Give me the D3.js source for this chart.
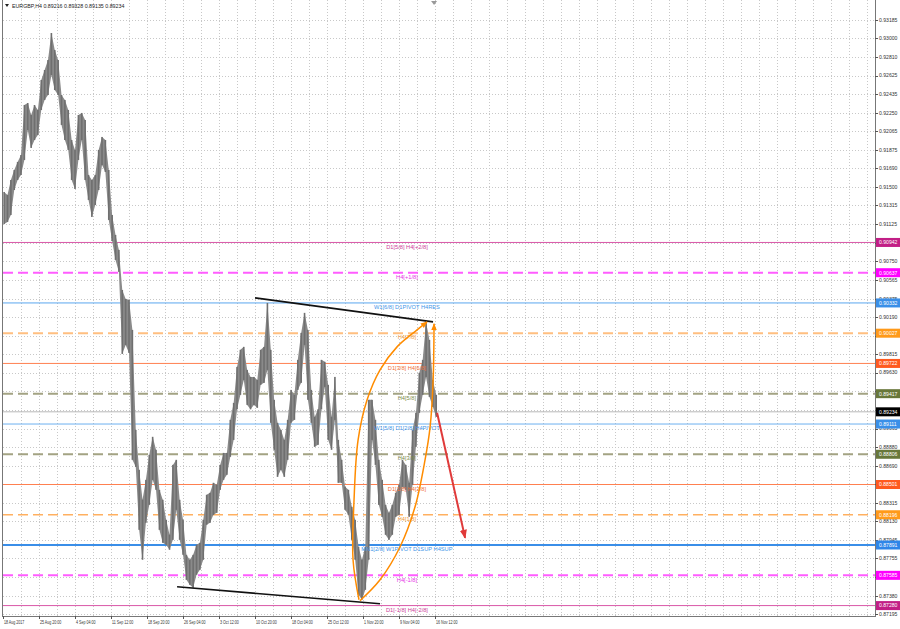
<!DOCTYPE html>
<html><head><meta charset="utf-8">
<script src="https://cdn.jsdelivr.net/npm/d3@7"></script>
<style>
body{margin:0;background:#fff;}
svg{display:block;font-family:"Liberation Sans",Arial,sans-serif;}
</style>
</head><body>
<svg id="c" width="900" height="629"></svg>
<script>
// ---------------- DATA ----------------
const symbolTitle = "EURGBP,H4  0.89216 0.89328 0.89135 0.89234";
const lastPrice = 0.89234;
const dateLabels = ["18 Aug 2017","25 Aug 20:00","4 Sep 04:00","11 Sep 12:00","18 Sep 20:00","26 Sep 04:00","3 Oct 12:00","10 Oct 20:00","18 Oct 04:00","25 Oct 12:00","1 Nov 20:00","9 Nov 04:00","16 Nov 12:00"];
const dateBars = [0,32,64,96,128,160,192,224,256,288,320,352,384];
const priceTicks = [0.93185,0.93000,0.92810,0.92625,0.92435,0.92250,0.92065,0.91875,0.91690,0.91500,0.91315,0.91125,0.90940,0.90750,0.90565,0.90375,0.90190,0.90000,0.89815,0.89630,0.89440,0.89255,0.89065,0.88880,0.88690,0.88505,0.88315,0.88130,0.87945,0.87755,0.87570,0.87380,0.87195];
// price range of each 12-hour block (3 H4 bars)
const blockHigh = [0.91451,0.91421,0.91572,0.91673,0.91754,0.91824,0.92328,0.92348,0.92227,0.92328,0.92278,0.92580,0.92681,0.92782,0.93054,0.92883,0.92782,0.92429,0.92379,0.92278,0.91975,0.91875,0.92227,0.92248,0.92177,0.91623,0.91572,0.91623,0.91875,0.92006,0.91975,0.91673,0.91219,0.91018,0.90867,0.90463,0.90373,0.90363,0.90060,0.89052,0.88649,0.88347,0.88548,0.88800,0.88982,0.88851,0.88447,0.88347,0.88145,0.87994,0.88699,0.88750,0.88347,0.88145,0.87792,0.87742,0.87792,0.87893,0.87913,0.88145,0.88397,0.88417,0.88518,0.88498,0.88699,0.88820,0.88820,0.89153,0.89324,0.89687,0.89859,0.89889,0.89657,0.89586,0.89586,0.89556,0.89859,0.89889,0.90332,0.89859,0.89355,0.89123,0.89052,0.88951,0.89153,0.89455,0.89405,0.89758,0.90030,0.90232,0.90060,0.89455,0.89183,0.89259,0.89758,0.89738,0.89506,0.89183,0.89586,0.88951,0.88750,0.88478,0.88447,0.88276,0.88145,0.87873,0.87742,0.87873,0.89355,0.89355,0.89153,0.88750,0.88548,0.88296,0.88216,0.88296,0.88417,0.88498,0.88750,0.88699,0.88518,0.89052,0.89224,0.89627,0.89758,0.90141,0.89959,0.89556,0.89405];
const blockLow = [0.91127,0.91149,0.91219,0.91471,0.91572,0.91623,0.91774,0.92076,0.91895,0.91975,0.92026,0.92278,0.92379,0.92429,0.92631,0.92479,0.92429,0.92127,0.91975,0.91875,0.91572,0.91481,0.91774,0.91975,0.91572,0.91371,0.91199,0.91320,0.91471,0.91723,0.91653,0.91169,0.90957,0.90766,0.90645,0.89818,0.89909,0.89828,0.88750,0.88679,0.88044,0.87742,0.88115,0.88296,0.88548,0.88447,0.88044,0.87913,0.87893,0.87843,0.87943,0.88246,0.87943,0.87792,0.87540,0.87490,0.87460,0.87591,0.87641,0.87742,0.88095,0.88115,0.88195,0.88216,0.88447,0.88548,0.88599,0.88780,0.88951,0.89259,0.89405,0.89556,0.89304,0.89259,0.89304,0.89274,0.89506,0.89526,0.89657,0.89123,0.88851,0.88578,0.88649,0.88578,0.88750,0.89123,0.89153,0.89455,0.89526,0.89909,0.89355,0.89123,0.88881,0.88901,0.89259,0.89486,0.88951,0.88851,0.89153,0.88518,0.88518,0.88246,0.88195,0.87943,0.87742,0.87389,0.87339,0.87439,0.87742,0.88951,0.88699,0.88296,0.88175,0.87994,0.87943,0.87994,0.88175,0.88195,0.88478,0.88447,0.88175,0.88498,0.88881,0.89224,0.89405,0.89586,0.89385,0.89284,0.89183];
const levelPrices = [0.90942,0.90637,0.90332,0.90027,0.89722,0.89417,0.89111,0.88806,0.88501,0.88196,0.87891,0.87585,0.87280];
const levelNames = ["D1[5/8] H4[+2/8]","H4[+1/8]","W1[6/8] D1PIVOT H4RES","H4[7/8]","D1[3/8] H4[6/8]","H4[5/8]","W1[5/8] D1[2/8] H4PIVOT","H4[3/8]","D1[1/8] H4[2/8]","H4[1/8]","MN1[2/8] W1PIVOT D1SUP H4SUP","H4[-1/8]","D1[-1/8] H4[-2/8]"];
// drawn objects: [bar index, price]
const upperTrend = [[224,0.90383],[382.2,0.90141]];
const lowerTrend = [[154.7,0.87470],[335.1,0.87298]];
const arcLeft = [[316.4,0.87339],[311.1,0.87742],[312,0.88347],[315.6,0.88951],[323.6,0.89355],[335.1,0.89657],[350.2,0.89889],[368,0.90060],[376.9,0.90141]];
const arcRight = [[317.3,0.87329],[335.1,0.87540],[352.9,0.87873],[366.2,0.88276],[375.1,0.88750],[379.6,0.89083],[382.2,0.89526],[383.1,0.90121]];
const forecastArrow = [[385.8,0.89224],[410.7,0.87963]];

// ---------------- STYLES ----------------
const levelStyle = [
  {line:"#d957a8", box:"#c21f86", text:"#cc3d99", w:1, dash:null},
  {line:"#ff5cff", box:"#ff00ff", text:"#e633e6", w:2, dash:"10,5"},
  {line:"#5aa6ef", box:"#3a8fe8", text:"#3f95e8", w:1, dash:null},
  {line:"#ffbf80", box:"#ff9a1a", text:"#f09a3a", w:2, dash:"10,5"},
  {line:"#ff8050", box:"#ff5a1f", text:"#f0703a", w:1, dash:null},
  {line:"#a3a383", box:"#68773a", text:"#7d8a4a", w:2, dash:"10,5"},
  {line:"#6cb0f0", box:"#3a8fe8", text:"#3f95e8", w:1, dash:null},
  {line:"#a3a383", box:"#68773a", text:"#7d8a4a", w:2, dash:"10,5"},
  {line:"#ff8050", box:"#ff5a1f", text:"#f0703a", w:1, dash:null},
  {line:"#ffb060", box:"#ff9a1a", text:"#f09a3a", w:1.5, dash:"10,5"},
  {line:"#3a8ee8", box:"#2f86e8", text:"#3f95e8", w:2, dash:null},
  {line:"#ff5cff", box:"#ff00ff", text:"#e633e6", w:2, dash:"10,5"},
  {line:"#d957a8", box:"#c21f86", text:"#cc3d99", w:1, dash:null}
];

// ---------------- CHART ----------------
const svg = d3.select("#c");
const L = 3, R = 875, T = 0, B = 616;
const x = d3.scaleLinear().domain([0, 775]).range([L, R]);
const y = d3.scaleLinear().domain([0.87175, 0.93387]).range([B, T]);

svg.append("rect").attr("width",900).attr("height",629).attr("fill","#fff");
svg.append("clipPath").attr("id","pc").append("rect")
  .attr("x",L).attr("y",T).attr("width",R-L).attr("height",B-T);
const g = svg.append("g").attr("clip-path","url(#pc)");

// grid
g.selectAll(".hg").data(priceTicks).enter().append("line")
  .attr("x1",L).attr("x2",R).attr("y1",d=>Math.round(y(d))+0.5).attr("y2",d=>Math.round(y(d))+0.5)
  .attr("stroke","#c8c8c8").attr("stroke-dasharray","1,2");
const vgrid = d3.range(16, 776, 16);
g.selectAll(".vg").data(vgrid).enter().append("line")
  .attr("y1",T).attr("y2",B).attr("x1",d=>Math.round(x(d))+0.5).attr("x2",d=>Math.round(x(d))+0.5)
  .attr("stroke","#c8c8c8").attr("stroke-dasharray","1,2");

// level lines
g.selectAll(".lv").data(levelPrices).enter().append("line")
  .attr("x1",L).attr("x2",R).attr("y1",d=>y(d)).attr("y2",d=>y(d))
  .attr("stroke",(d,i)=>levelStyle[i].line).attr("stroke-width",(d,i)=>levelStyle[i].w)
  .attr("stroke-dasharray",(d,i)=>levelStyle[i].dash);
// bid line
g.append("line").attr("x1",L).attr("x2",R).attr("y1",y(lastPrice)).attr("y2",y(lastPrice))
  .attr("stroke","#b8b8b8").attr("stroke-width",1);

// price band (area through the block ranges) + bar ticks for texture
const blocks = blockHigh.map((h,i)=>({i, h, l:blockLow[i]}));
const area = d3.area().x(d=>x(3*d.i+1)).y0(d=>y(d.l)).y1(d=>y(d.h));
g.append("path").datum(blocks).attr("d",area).attr("fill","#8a8a8a");
g.selectAll(".bar").data(blocks).enter().append("rect")
  .attr("x",d=>x(3*d.i+1)-0.8)
  .attr("width",1.6)
  .attr("y",d=>y(d.h))
  .attr("height",d=>Math.max(1, y(d.l) - y(d.h)))
  .attr("fill","#6f6f6f");

// level labels
g.selectAll(".lt").data(levelNames).enter().append("text")
  .attr("x",x(359)).attr("y",(d,i)=>y(levelPrices[i])+6.2)
  .attr("text-anchor","middle").attr("font-size",5.7)
  .attr("fill",(d,i)=>levelStyle[i].text).text(d=>d);

// markers
const defs = svg.append("defs");
function marker(id, color, size){
  defs.append("marker").attr("id",id).attr("viewBox","0 0 10 10").attr("refX",9).attr("refY",5)
    .attr("markerWidth",size).attr("markerHeight",size).attr("orient","auto-start-reverse")
    .attr("markerUnits","userSpaceOnUse")
    .append("path").attr("d","M0,1 L10,5 L0,9 Z").attr("fill",color);
}
marker("ao","#ff8c00",7);
marker("ar","#e03a3a",9);

const lineGen = d3.line().x(d=>x(d[0])).y(d=>y(d[1]));
g.append("path").datum(upperTrend).attr("d",lineGen).attr("stroke","#111").attr("stroke-width",1.6).attr("fill","none");
g.append("path").datum(lowerTrend).attr("d",lineGen).attr("stroke","#111").attr("stroke-width",1.6).attr("fill","none");
const curveGen = d3.line().x(d=>x(d[0])).y(d=>y(d[1])).curve(d3.curveCatmullRom.alpha(0.5));
g.append("path").datum(arcLeft).attr("d",curveGen).attr("stroke","#ff8c00").attr("stroke-width",1.5).attr("fill","none").attr("marker-end","url(#ao)");
g.append("path").datum(arcRight).attr("d",curveGen).attr("stroke","#ff8c00").attr("stroke-width",1.5).attr("fill","none").attr("marker-end","url(#ao)");
g.append("path").datum(forecastArrow).attr("d",lineGen).attr("stroke","#e03a3a").attr("stroke-width",2).attr("fill","none").attr("marker-end","url(#ar)");

// frame
svg.append("line").attr("x1",2.5).attr("x2",2.5).attr("y1",0).attr("y2",B+0.5).attr("stroke","#777");
svg.append("line").attr("x1",R+0.5).attr("x2",R+0.5).attr("y1",0).attr("y2",B+0.5).attr("stroke","#777");
svg.append("line").attr("x1",2).attr("x2",R+1).attr("y1",B+0.5).attr("y2",B+0.5).attr("stroke","#777");

// shift marker at top
svg.append("path").attr("d",`M${x(384)-4},1 L${x(384)+2},1 L${x(384)-1},5 Z`).attr("fill","#999");

// title
svg.append("path").attr("d","M5,4 L9,4 L7,7 Z").attr("fill","#222");
svg.append("text").attr("x",12).attr("y",8).attr("font-size",5.3).attr("fill","#222").text(symbolTitle);

// price boxes
const boxes = levelPrices.map((p,i)=>({p, c:levelStyle[i].box})).concat([{p:lastPrice, c:"#000"}]);
// price axis ticks and labels (labels fully hidden behind a box are skipped)
const visibleTicks = priceTicks.filter(t => !boxes.some(b => Math.abs(y(b.p) - y(t)) < 3.6));
svg.selectAll(".pt").data(priceTicks).enter().append("line")
  .attr("x1",R).attr("x2",R+3).attr("y1",d=>Math.round(y(d))+0.5).attr("y2",d=>Math.round(y(d))+0.5).attr("stroke","#555");
svg.selectAll(".pl").data(visibleTicks).enter().append("text")
  .attr("x",R+4).attr("y",d=>y(d)+1.9).attr("font-size",5.1).attr("fill","#333")
  .text(d=>d.toFixed(5));
const bg = svg.selectAll(".bx").data(boxes).enter().append("g");
bg.append("rect").attr("x",R+1).attr("y",d=>y(d.p)-4.5).attr("width",900-R-1).attr("height",9).attr("fill",d=>d.c);
bg.append("text").attr("x",R+4).attr("y",d=>y(d.p)+1.9).attr("font-size",5.1).attr("fill","#fff").text(d=>d.p.toFixed(5));

// date axis
svg.selectAll(".dt").data(dateBars).enter().append("line")
  .attr("x1",d=>Math.round(x(d))+0.5).attr("x2",d=>Math.round(x(d))+0.5).attr("y1",B).attr("y2",B+3).attr("stroke","#555");
svg.selectAll(".dl").data(dateLabels).enter().append("text")
  .attr("x",(d,i)=>x(dateBars[i])+1).attr("y",623.5).attr("font-size",4.9).attr("fill","#333")
  .text(d=>d)
  .each(function(){ const w=this.getComputedTextLength(); d3.select(this).attr("textLength",w*0.74).attr("lengthAdjust","spacingAndGlyphs"); });
</script>
</body></html>
